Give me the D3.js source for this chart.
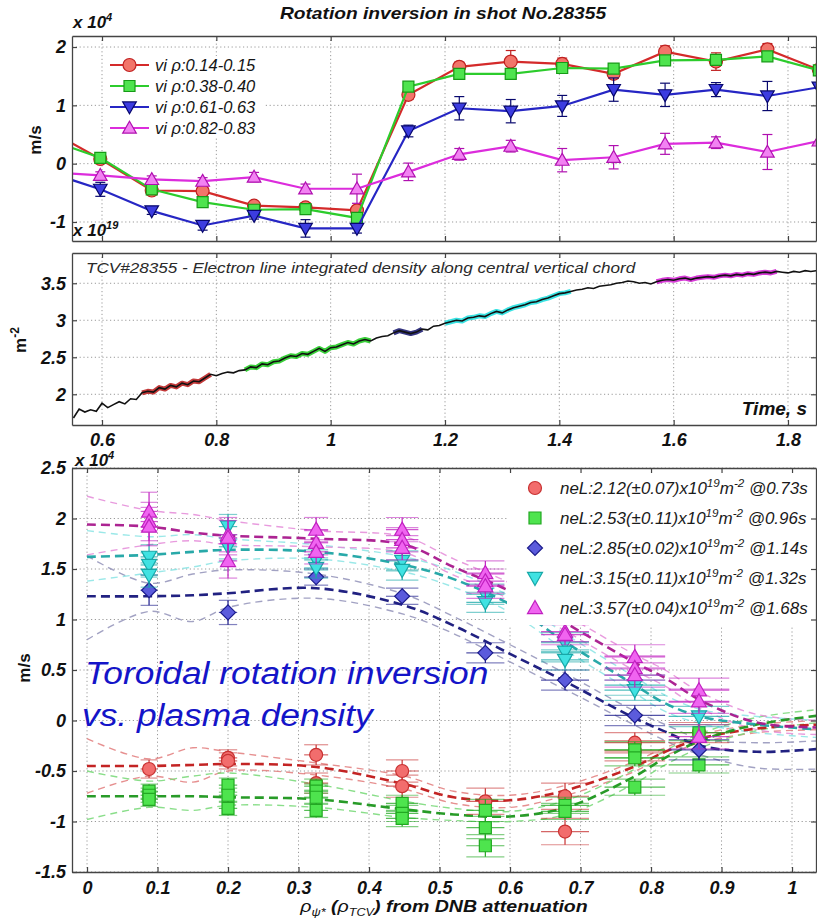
<!DOCTYPE html>
<html><head><meta charset="utf-8">
<script src="https://cdn.jsdelivr.net/npm/d3@7"></script>
<style>
body{margin:0;background:#fff;}
svg{display:block;font-family:"Liberation Sans",Arial,sans-serif;}
</style></head><body>
<svg id="chart" width="817" height="919"></svg>
<script>
// ---------------- data: rotation time traces (x10^4 m/s) ----------------
const timePts = [0.507, 0.597, 0.687, 0.776, 0.866, 0.956, 1.046, 1.136, 1.225, 1.315, 1.405, 1.495, 1.585, 1.674, 1.764, 1.854];
const viRho014 = [0.57, 0.08, -0.46, -0.47, -0.72, -0.75, -0.80, 1.18, 1.66, 1.75, 1.71, 1.54, 1.92, 1.75, 1.96, 1.61];
const viRho038 = [0.41, 0.10, -0.44, -0.66, -0.79, -0.78, -0.93, 1.32, 1.54, 1.54, 1.64, 1.63, 1.77, 1.78, 1.84, 1.60];
const viRho061 = [-0.15, -0.44, -0.81, -1.06, -0.89, -1.11, -1.11, 0.56, 0.95, 0.90, 0.99, 1.27, 1.18, 1.27, 1.16, 1.31];
const viRho082 = [-0.145, -0.20, -0.27, -0.30, -0.23, -0.43, -0.43, -0.14, 0.16, 0.30, 0.06, 0.11, 0.34, 0.36, 0.20, 0.39];
const errRho014 = [0, 0.05, 0.05, 0.06, 0.05, 0.08, 0.06, 0.08, 0.08, 0.19, 0.10, 0.08, 0.10, 0.15, 0.10, 0];
const errRho038 = [0, 0.04, 0.05, 0.05, 0.05, 0.05, 0.06, 0.05, 0.06, 0.05, 0.06, 0.06, 0.06, 0.07, 0.06, 0];
const errRho061 = [0, 0.12, 0.06, 0.08, 0.06, 0.15, 0.08, 0.10, 0.20, 0.20, 0.18, 0.20, 0.20, 0.12, 0.25, 0];
const errRho082 = [0, 0.06, 0.06, 0.06, 0.08, 0.08, 0.25, 0.15, 0.10, 0.10, 0.20, 0.20, 0.18, 0.10, 0.30, 0];
const traceLabels = ["vi \u03c1:0.14-0.15", "vi \u03c1:0.38-0.40", "vi \u03c1:0.61-0.63", "vi \u03c1:0.82-0.83"];

// ---------------- data: line integrated density (x10^19 m^-2) ----------------
const densT0 = 0.55, densStep = 0.01;
const densValues = [
 1.68, 1.80, 1.76, 1.79, 1.77, 1.88, 1.82, 1.86, 1.90, 1.87,
 1.94, 1.93, 2.02, 2.04, 2.03, 2.09, 2.07, 2.12, 2.10, 2.15,
 2.13, 2.18, 2.17, 2.22, 2.27, 2.25, 2.28, 2.30, 2.29, 2.32,
 2.33, 2.37, 2.36, 2.41, 2.40, 2.44, 2.45, 2.49, 2.52, 2.51,
 2.55, 2.54, 2.58, 2.62, 2.58, 2.63, 2.64, 2.67, 2.70, 2.68,
 2.72, 2.74, 2.72, 2.76, 2.78, 2.79, 2.83, 2.86, 2.84, 2.82,
 2.84, 2.88, 2.87, 2.92, 2.93, 2.96, 2.98, 3.00, 2.99, 3.03,
 3.04, 3.06, 3.05, 3.09, 3.12, 3.10, 3.14, 3.17, 3.19, 3.21,
 3.24, 3.25, 3.28, 3.30, 3.33, 3.36, 3.37, 3.39, 3.41, 3.42,
 3.44, 3.43, 3.46, 3.47, 3.48, 3.50, 3.51, 3.53, 3.52, 3.50,
 3.51, 3.49, 3.52, 3.54, 3.55, 3.54, 3.56, 3.57, 3.55, 3.57,
 3.58, 3.59, 3.58, 3.60, 3.61, 3.60, 3.62, 3.61, 3.63, 3.62,
 3.64, 3.65, 3.64, 3.66, 3.65, 3.64, 3.66, 3.65, 3.67, 3.66, 3.67];
const windowStart = [0.67, 0.85, 1.11, 1.20, 1.57];
const windowEnd   = [0.79, 1.07, 1.16, 1.42, 1.78];

// ---------------- data: radial profiles (x10^4 m/s) ----------------
const clusterRho    = [0.088, 0.200, 0.325, 0.447, 0.565, 0.678, 0.777, 0.868];
const clusterRhoErr = [0.012, 0.013, 0.017, 0.023, 0.027, 0.034, 0.043, 0.043];
const prof073 = [[-0.48], [-0.37, -0.40], [-0.34, -0.62], [-0.50, -0.65], [-0.80], [-0.75, -1.10], [-0.22, -0.30], [-0.12]];
const prof096 = [[-0.70, -0.74, -0.78], [-0.64, -0.74, -0.87], [-0.65, -0.70, -0.76, -0.89], [-0.82, -0.92, -0.97], [-0.89, -1.06, -1.24], [-0.84, -0.90], [-0.29, -0.37, -0.66], [-0.12, -0.44]];
const prof114 = [[1.29], [1.07], [1.42], [1.23], [0.67], [0.40], [0.05], [-0.29]];
const prof132 = [[1.62, 1.54, 1.44], [1.92, 1.72], [1.59, 1.51], [1.58, 1.49], [1.25, 1.17], [0.77, 0.68, 0.60], [0.35, 0.30], [0.04]];
const prof168 = [[2.07, 1.97, 1.92], [1.84, 1.81, 1.58], [1.89, 1.76, 1.67], [1.89, 1.79, 1.71], [1.46, 1.38, 1.33], [0.88, 0.85], [0.63, 0.52, 0.45], [0.30, 0.19, -0.16]];
const perr073 = [0.09, 0.08, 0.10, 0.11, 0.13, 0.13, 0.10, 0.10];
const perr096 = [0.07, 0.07, 0.07, 0.08, 0.11, 0.08, 0.08, 0.08];
const perr114 = [0.15, 0.12, 0.08, 0.08, 0.10, 0.10, 0.10, 0.10];
const perr132 = [0.12, 0.12, 0.10, 0.10, 0.10, 0.10, 0.10, 0.10];
const perr168 = [0.19, 0.17, 0.12, 0.12, 0.12, 0.10, 0.12, 0.12];

// fitted profiles with upper / lower confidence bounds
const fitRho = [0, 0.088, 0.15, 0.2, 0.325, 0.45, 0.52, 0.6, 0.68, 0.775, 0.82, 0.87, 0.95, 1.04];
const fit073 = [-0.45, -0.45, -0.44, -0.43, -0.46, -0.63, -0.76, -0.79, -0.69, -0.46, -0.31, -0.18, -0.08, -0.04];
const hi073  = [-0.18, -0.38, -0.27, -0.31, -0.42, -0.55, -0.70, -0.74, -0.64, -0.41, -0.27, -0.14, -0.04, 0.00];
const lo073  = [-0.72, -0.55, -0.61, -0.50, -0.54, -0.68, -0.82, -0.86, -0.74, -0.51, -0.35, -0.22, -0.12, -0.09];
const fit096 = [-0.75, -0.75, -0.75, -0.76, -0.78, -0.88, -0.93, -0.95, -0.86, -0.56, -0.37, -0.20, -0.04, 0.05];
const hi096  = [-0.50, -0.60, -0.55, -0.52, -0.63, -0.80, -0.87, -0.90, -0.79, -0.49, -0.30, -0.13, 0.03, 0.11];
const lo096  = [-0.98, -0.86, -0.89, -0.84, -0.86, -0.96, -0.99, -1.00, -0.93, -0.63, -0.44, -0.27, -0.10, -0.02];
const fit114 = [1.23, 1.23, 1.24, 1.26, 1.31, 1.14, 0.94, 0.66, 0.38, 0.03, -0.11, -0.25, -0.31, -0.28];
const hi114  = [1.63, 1.36, 1.45, 1.49, 1.45, 1.25, 1.03, 0.75, 0.46, 0.10, -0.04, -0.18, -0.22, -0.20];
const lo114  = [0.80, 1.08, 0.98, 1.12, 1.21, 1.05, 0.86, 0.58, 0.30, -0.04, -0.20, -0.34, -0.47, -0.48];
const fit132 = [1.62, 1.64, 1.67, 1.69, 1.67, 1.54, 1.40, 1.15, 0.77, 0.36, 0.17, 0.04, -0.04, -0.09];
const hi132  = [1.88, 1.82, 1.84, 1.80, 1.74, 1.62, 1.48, 1.23, 0.85, 0.44, 0.25, 0.11, 0.04, 0.00];
const lo132  = [1.38, 1.46, 1.52, 1.58, 1.60, 1.47, 1.32, 1.07, 0.69, 0.28, 0.09, -0.03, -0.12, -0.17];
const fit168 = [1.94, 1.92, 1.86, 1.83, 1.80, 1.74, 1.52, 1.28, 0.96, 0.58, 0.42, 0.20, -0.02, -0.07];
const hi168  = [2.22, 2.08, 2.04, 1.98, 1.88, 1.82, 1.60, 1.36, 1.04, 0.66, 0.50, 0.28, 0.06, 0.00];
const lo168  = [1.64, 1.74, 1.78, 1.74, 1.72, 1.66, 1.44, 1.20, 0.88, 0.50, 0.34, 0.12, -0.09, -0.14];

const neL    = [2.12, 2.53, 2.85, 3.15, 3.57];
const neLErr = [0.07, 0.11, 0.02, 0.11, 0.04];
const profTimes = [0.73, 0.96, 1.14, 1.32, 1.68];

// ---------------- layout & scales ----------------
const svg = d3.select('#chart');
const L = 72, R = 816;
const P1 = {top: 36, bottom: 241};
const P2 = {top: 253, bottom: 425};
const P3 = {top: 468, bottom: 872};

const xTime = d3.scaleLinear().domain([0.5475, 1.849]).range([L, R]);
const y1 = d3.scaleLinear().domain([-1.326, 2.189]).range([P1.bottom, P1.top]);
const y2 = d3.scaleLinear().domain([1.585, 3.909]).range([P2.bottom, P2.top]);
const xRho = d3.scaleLinear().domain([-0.0213, 1.034]).range([L, R]);
const y3 = d3.scaleLinear().domain([-1.5, 2.5]).range([P3.bottom, P3.top]);

const timeTicks = [0.6, 0.8, 1.0, 1.2, 1.4, 1.6, 1.8];
const fmtNum = d => String(+d.toFixed(2));

const shapes = {
  circle: r => `M${r},0A${r},${r} 0 1,1 ${-r},0A${r},${r} 0 1,1 ${r},0Z`,
  square: r => `M${-r},${-r}H${r}V${r}H${-r}Z`,
  diamond: r => `M0,${-r}L${r},0L0,${r}L${-r},0Z`,
  up: r => `M0,${-r}L${r},${r * 0.75}L${-r},${r * 0.75}Z`,
  down: r => `M0,${r}L${r},${-r * 0.75}L${-r},${-r * 0.75}Z`
};

// text placed at (x, y) and widened horizontally by sx
function wideText(parent, x, y, sx) {
  return parent.append('text').attr('transform', `translate(${x},${y}) scale(${sx},1)`);
}

const defs = svg.append('defs');
function clip(id, top, bottom) {
  defs.append('clipPath').attr('id', id).append('rect')
    .attr('x', L).attr('y', top).attr('width', R - L).attr('height', bottom - top);
  return `url(#${id})`;
}

function grid(g, xs, ys, xt, yt, top, bottom) {
  const gg = g.append('g').attr('stroke', '#9a9a9a').attr('stroke-width', 1).attr('stroke-dasharray', '1.2,2.6');
  gg.selectAll('.gx').data(xt).join('line').attr('class', 'gx')
    .attr('x1', d => xs(d)).attr('x2', d => xs(d)).attr('y1', top).attr('y2', bottom);
  gg.selectAll('.gy').data(yt).join('line').attr('class', 'gy')
    .attr('x1', L).attr('x2', R).attr('y1', d => ys(d)).attr('y2', d => ys(d));
}

function styleAxis(sel) {
  sel.attr('font-family', null).attr('font-size', null);
  sel.select('.domain').attr('stroke', '#444').attr('stroke-width', 1.3);
  sel.selectAll('.tick line').attr('stroke', '#444').attr('stroke-width', 1.2);
  sel.selectAll('.tick text').attr('fill', '#111').style('font-size', '18px')
    .style('font-weight', 'bold').style('font-style', 'italic');
}

function frame(g, xs, ys, xt, yt, top, bottom, showX, xPad) {
  g.append('g').attr('transform', `translate(0,${bottom})`)
    .call(d3.axisBottom(xs).tickValues(xt).tickSize(-5).tickSizeOuter(0).tickPadding(xPad)
      .tickFormat(showX ? fmtNum : () => '')).call(styleAxis);
  g.append('g').attr('transform', `translate(0,${top})`)
    .call(d3.axisTop(xs).tickValues(xt).tickSize(-5).tickSizeOuter(0).tickFormat(() => '')).call(styleAxis);
  g.append('g').attr('transform', `translate(${L},0)`)
    .call(d3.axisLeft(ys).tickValues(yt).tickSize(-5).tickSizeOuter(0).tickPadding(6).tickFormat(fmtNum)).call(styleAxis);
  g.append('g').attr('transform', `translate(${R},0)`)
    .call(d3.axisRight(ys).tickValues(yt).tickSize(-5).tickSizeOuter(0).tickFormat(() => '')).call(styleAxis);
}

function multiplier(x, y, exp) {
  const t = svg.append('text').attr('x', x).attr('y', y).attr('fill', '#111')
    .style('font-size', '17px').style('font-weight', 'bold').style('font-style', 'italic');
  t.append('tspan').text('x 10');
  t.append('tspan').attr('dy', -7).style('font-size', '11px').text(exp);
}

// ================= panel 1: rotation vs time =================
const g1 = svg.append('g');
grid(g1, xTime, y1, timeTicks, [-1, 0, 1, 2], P1.top, P1.bottom);
const c1 = g1.append('g').attr('clip-path', clip('clip1', P1.top, P1.bottom));

const traceStyle = [
  {vals: viRho014, errs: errRho014, shape: 'circle', r: 6.5, line: '#d42a2a', fill: '#f2756a', edge: '#c02020'},
  {vals: viRho038, errs: errRho038, shape: 'square', r: 5.5, line: '#2ccc2c', fill: '#4ee44e', edge: '#169a16'},
  {vals: viRho061, errs: errRho061, shape: 'down', r: 6.8, line: '#2626c4', fill: '#3c3ce0', edge: '#08086e'},
  {vals: viRho082, errs: errRho082, shape: 'up', r: 6.8, line: '#dc2cdc', fill: '#f282f2', edge: '#b010b0'}
];
traceStyle.forEach(s => {
  const pts = timePts.map((t, i) => ({t, v: s.vals[i], e: s.errs[i]}));
  c1.append('path').datum(pts)
    .attr('d', d3.line().x(d => xTime(d.t)).y(d => y1(d.v)))
    .attr('fill', 'none').attr('stroke', s.line).attr('stroke-width', 2.2);
  const eb = c1.append('g').attr('stroke', s.edge).attr('stroke-width', 1.2);
  pts.filter(d => d.e > 0).forEach(d => {
    const x = xTime(d.t);
    eb.append('line').attr('x1', x).attr('x2', x).attr('y1', y1(d.v - d.e)).attr('y2', y1(d.v + d.e));
    eb.append('line').attr('x1', x - 5).attr('x2', x + 5).attr('y1', y1(d.v - d.e)).attr('y2', y1(d.v - d.e));
    eb.append('line').attr('x1', x - 5).attr('x2', x + 5).attr('y1', y1(d.v + d.e)).attr('y2', y1(d.v + d.e));
  });
  c1.append('g').selectAll('path').data(pts).join('path')
    .attr('transform', d => `translate(${xTime(d.t)},${y1(d.v)})`)
    .attr('d', shapes[s.shape](s.r))
    .attr('fill', s.fill).attr('stroke', s.edge).attr('stroke-width', 1.2);
});

// legend
const lg1 = g1.append('g');
lg1.append('rect').attr('x', 108).attr('y', 56).attr('width', 156).attr('height', 82).attr('fill', '#fff');
traceLabels.forEach((lab, i) => {
  const s = traceStyle[i];
  const yy = 65 + i * 21;
  lg1.append('line').attr('x1', 110).attr('x2', 149).attr('y1', yy).attr('y2', yy)
    .attr('stroke', s.line).attr('stroke-width', 2.2);
  lg1.append('path').attr('transform', `translate(129.5,${yy})`).attr('d', shapes[s.shape](s.r))
    .attr('fill', s.fill).attr('stroke', s.edge).attr('stroke-width', 1.2);
  lg1.append('text').attr('x', 155).attr('y', yy + 6).text(lab).attr('fill', '#151515')
    .style('font-size', '16.5px').style('font-style', 'italic');
});
frame(g1, xTime, y1, timeTicks, [-1, 0, 1, 2], P1.top, P1.bottom, false, 8);

wideText(svg, 443, 19, 1.2).attr('text-anchor', 'middle').attr('fill', '#111')
  .style('font-size', '16px').style('font-weight', 'bold').style('font-style', 'italic')
  .text('Rotation inversion in shot No.28355');
multiplier(73, 28, '4');
svg.append('text').attr('transform', 'translate(41,140) rotate(-90)').attr('text-anchor', 'middle')
  .attr('fill', '#111').style('font-size', '17px').style('font-weight', 'bold').text('m/s');

// ================= panel 2: density =================
const g2 = svg.append('g');
grid(g2, xTime, y2, timeTicks, [2, 2.5, 3, 3.5], P2.top, P2.bottom);
const c2 = g2.append('g').attr('clip-path', clip('clip2', P2.top, P2.bottom));
const dens = densValues.map((v, i) => ({t: densT0 + i * densStep, v}));
const densLine = d3.line().x(d => xTime(d.t)).y(d => y2(d.v));
const windowColors = ['#b81818', '#18c818', '#101068', '#18dede', '#d018d0'];
windowStart.forEach((t0, i) => {
  const seg = dens.filter(d => d.t >= t0 - 1e-9 && d.t <= windowEnd[i] + 1e-9);
  c2.append('path').datum(seg).attr('d', densLine).attr('fill', 'none')
    .attr('stroke', windowColors[i]).attr('stroke-width', 5).attr('stroke-linejoin', 'round').attr('opacity', 0.85);
});
c2.append('path').datum(dens).attr('d', densLine).attr('fill', 'none')
  .attr('stroke', '#111').attr('stroke-width', 1.6);
frame(g2, xTime, y2, timeTicks, [2, 2.5, 3, 3.5], P2.top, P2.bottom, true, 8);

wideText(svg, 86, 273, 1.14).attr('fill', '#2a2a2a')
  .style('font-size', '15px').style('font-style', 'italic')
  .text('TCV#28355 - Electron line integrated density along central vertical chord');
svg.append('text').attr('x', 807).attr('y', 415).attr('text-anchor', 'end').attr('fill', '#111')
  .style('font-size', '19px').style('font-weight', 'bold').style('font-style', 'italic').text('Time, s');
multiplier(73, 236, '19');
const mlab = svg.append('text').attr('transform', 'translate(26,340) rotate(-90)').attr('text-anchor', 'middle')
  .attr('fill', '#111').style('font-size', '17px').style('font-weight', 'bold');
mlab.append('tspan').text('m');
mlab.append('tspan').attr('dy', -7).style('font-size', '12px').text('-2');

// ================= panel 3: radial profiles =================
const g3 = svg.append('g');
const rhoTicks = d3.range(0, 11).map(i => i / 10);
const vTicks = d3.range(-3, 6).map(i => i / 2);
grid(g3, xRho, y3, rhoTicks, vTicks, P3.top, P3.bottom);
const c3 = g3.append('g').attr('clip-path', clip('clip3', P3.top, P3.bottom));

const profStyle = [
  {pts: prof073, errs: perr073, fit: fit073, hi: hi073, lo: lo073, shape: 'circle', r: 6.5, fill: '#f26d6d', edge: '#c83232', fitC: '#c01818', envC: '#e27c7c'},
  {pts: prof096, errs: perr096, fit: fit096, hi: hi096, lo: lo096, shape: 'square', r: 6, fill: '#4ee44e', edge: '#22a822', fitC: '#1c961c', envC: '#76d876'},
  {pts: prof114, errs: perr114, fit: fit114, hi: hi114, lo: lo114, shape: 'diamond', r: 7.5, fill: '#5b5bdc', edge: '#1c1c8c', fitC: '#15157a', envC: '#9292b8'},
  {pts: prof132, errs: perr132, fit: fit132, hi: hi132, lo: lo132, shape: 'down', r: 7.5, fill: '#40e2e2', edge: '#18a8a8', fitC: '#1ea4a4', envC: '#8ae4e4'},
  {pts: prof168, errs: perr168, fit: fit168, hi: hi168, lo: lo168, shape: 'up', r: 7.5, fill: '#f064f0', edge: '#c020c0', fitC: '#a8188c', envC: '#e48ad8'}
];
const fitLine = d3.line().x(d => xRho(d[0])).y(d => y3(d[1])).curve(d3.curveCatmullRom.alpha(0.5));

// fits and confidence bounds
profStyle.forEach(s => {
  [s.hi, s.lo].forEach(arr => {
    c3.append('path').datum(fitRho.map((r, i) => [r, arr[i]])).attr('d', fitLine)
      .attr('fill', 'none').attr('stroke', s.envC).attr('stroke-width', 1.4)
      .attr('stroke-dasharray', '7,5').attr('opacity', 0.85);
  });
});
profStyle.forEach(s => {
  c3.append('path').datum(fitRho.map((r, i) => [r, s.fit[i]])).attr('d', fitLine)
    .attr('fill', 'none').attr('stroke', s.fitC).attr('stroke-width', 2.6)
    .attr('stroke-dasharray', '9,5').attr('opacity', 0.95);
});

// measured points with error bars
profStyle.forEach(s => {
  const pts = [];
  s.pts.forEach((vals, ci) => vals.forEach(v => pts.push({rho: clusterRho[ci], dr: clusterRhoErr[ci], v, e: s.errs[ci]})));
  const eb = c3.append('g').attr('stroke', s.edge).attr('stroke-width', 1.2);
  pts.forEach(d => {
    const x = xRho(d.rho), x0 = xRho(d.rho - d.dr), x1 = xRho(d.rho + d.dr);
    eb.append('line').attr('x1', x).attr('x2', x).attr('y1', y3(d.v - d.e)).attr('y2', y3(d.v + d.e));
    [d.v - d.e, d.v, d.v + d.e].forEach(yv => {
      eb.append('line').attr('x1', x0).attr('x2', x1).attr('y1', y3(yv)).attr('y2', y3(yv))
        .attr('opacity', yv === d.v ? 0.75 : 0.55);
    });
  });
  c3.append('g').selectAll('path').data(pts).join('path')
    .attr('transform', d => `translate(${xRho(d.rho)},${y3(d.v)})`)
    .attr('d', shapes[s.shape](s.r))
    .attr('fill', s.fill).attr('stroke', s.edge).attr('stroke-width', 1.2);
});

// legend
const lg3 = g3.append('g');
lg3.append('rect').attr('x', 507).attr('y', 470).attr('width', 308).attr('height', 155).attr('fill', '#fff');
neL.forEach((n, i) => {
  const s = profStyle[i];
  const yy = 488 + i * 30;
  lg3.append('path').attr('transform', `translate(535,${yy})`).attr('d', shapes[s.shape](s.r))
    .attr('fill', s.fill).attr('stroke', s.edge).attr('stroke-width', 1.2);
  const t = wideText(lg3, 560, yy + 6, 1.06).attr('fill', '#1a1a1a')
    .style('font-size', '16px').style('font-style', 'italic');
  t.append('tspan').text(`neL:${n.toFixed(2)}(\u00b1${neLErr[i].toFixed(2)})x10`);
  t.append('tspan').attr('dy', -7).style('font-size', '11px').text('19');
  t.append('tspan').attr('dy', 7).text('m');
  t.append('tspan').attr('dy', -7).style('font-size', '11px').text('-2');
  t.append('tspan').attr('dy', 7).text(` @${profTimes[i].toFixed(2)}s`);
});
frame(g3, xRho, y3, rhoTicks, vTicks, P3.top, P3.bottom, true, 9);

multiplier(75, 466, '4');
svg.append('text').attr('transform', 'translate(30,668) rotate(-90)').attr('text-anchor', 'middle')
  .attr('fill', '#111').style('font-size', '17px').style('font-weight', 'bold').text('m/s');

const xl = wideText(svg, 444, 912, 1.15).attr('text-anchor', 'middle').attr('fill', '#111')
  .style('font-size', '17px').style('font-weight', 'bold').style('font-style', 'italic');
xl.append('tspan').style('font-weight', 'normal').text('\u03c1');
xl.append('tspan').attr('dy', 4).style('font-size', '11px').style('font-weight', 'normal').text('\u03c8*');
xl.append('tspan').attr('dy', -4).text(' (');
xl.append('tspan').style('font-weight', 'normal').text('\u03c1');
xl.append('tspan').attr('dy', 4).style('font-size', '11px').style('font-weight', 'normal').text('TCV');
xl.append('tspan').attr('dy', -4).text(') from DNB attenuation');

// annotation
const note = svg.append('g').attr('fill', '#1414c8').style('font-size', '31px').style('font-style', 'italic');
wideText(note, 85, 684, 1.14).text('Toroidal rotation inversion');
wideText(note, 82, 726, 1.14).text('vs. plasma density');
</script></body></html>
